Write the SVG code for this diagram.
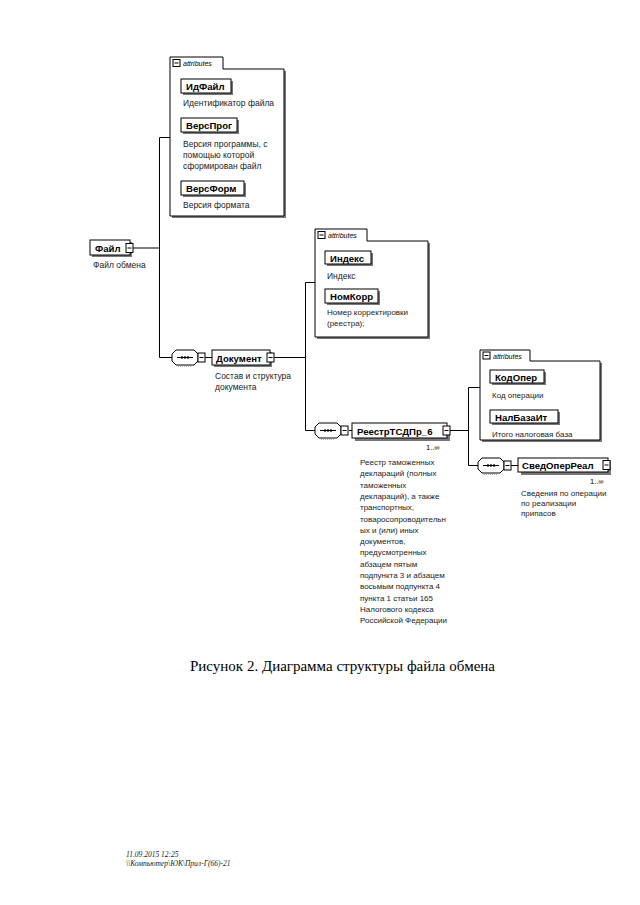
<svg xmlns="http://www.w3.org/2000/svg" xmlns:xlink="http://www.w3.org/1999/xlink" width="640" height="905" viewBox="0 0 640 905">
<style>
.box{fill:#fff;stroke:#000;stroke-width:1}
.sh{fill:#777}
.lbl{font-family:"Liberation Sans",Arial,sans-serif;font-weight:bold;font-size:9.6px;fill:#000}
.desc{font-family:"Liberation Sans",Arial,sans-serif;font-size:8.5px;fill:#222}
.desc2{font-family:"Liberation Sans",Arial,sans-serif;font-size:8px;fill:#222}
.att{font-family:"Liberation Sans",Arial,sans-serif;font-style:italic;font-size:7px;fill:#000}
.mult{font-family:"Liberation Sans",Arial,sans-serif;font-size:7.5px;fill:#000}
.conn{stroke:#000;stroke-width:1;fill:none}
.cap{font-family:"Liberation Serif","Times New Roman",serif;font-size:15px;fill:#000}
.foot{font-family:"Liberation Serif","Times New Roman",serif;font-style:italic;font-size:7.5px;fill:#222}
</style>
<defs>
<g id="minus"><rect x="0" y="0" width="7" height="9" class="box"/><line x1="1.5" y1="4.5" x2="5.5" y2="4.5" stroke="#000" stroke-width="1"/></g>
<g id="tabminus"><rect x="0" y="0" width="7" height="7" class="box"/><line x1="1.5" y1="3.5" x2="5.5" y2="3.5" stroke="#000" stroke-width="1"/></g>
<g id="seq">
<path d="M0,4 L4,0 L22,0 L26,4 L26,11 L22,15 L4,15 L0,11 Z" class="box"/>
<line x1="5" y1="7.5" x2="21" y2="7.5" stroke="#000" stroke-width="1"/>
<circle cx="10" cy="7.5" r="1.2" fill="#000"/><circle cx="13" cy="7.5" r="1.2" fill="#000"/><circle cx="16" cy="7.5" r="1.2" fill="#000"/>
<line x1="6" y1="16.5" x2="20" y2="16.5" stroke="#999" stroke-width="0.8" stroke-dasharray="1,1"/>
<rect x="26" y="3" width="7" height="9" class="box"/><line x1="27.5" y1="7.5" x2="31.5" y2="7.5" stroke="#000" stroke-width="1"/>
</g>
</defs>

<g id="connectors" class="conn">
<polyline points="133,248 159.5,248"/>
<polyline points="170,137.5 159.5,137.5 159.5,357.5 172,357.5"/>
<polyline points="205,357.5 212,357.5"/>
<polyline points="274,357.5 305.5,357.5"/>
<polyline points="315,282.5 305.5,282.5 305.5,430.5 315,430.5"/>
<polyline points="349,430.5 352,430.5"/>
<polyline points="450,430.5 468.5,430.5"/>
<polyline points="480,387.5 468.5,387.5 468.5,465.5 478,465.5"/>
<polyline points="511,465.5 518,465.5"/>
</g>

<g id="node-fail">
<rect x="92" y="242" width="40" height="15" class="sh"/>
<rect x="90" y="240" width="40" height="15" class="box"/>
<text x="95" y="251.5" class="lbl">Файл</text>
<use xlink:href="#minus" x="126" y="243.5"/>
<text x="93" y="268" class="desc">Файл обмена</text>
</g>

<g id="attrs-fail">
<path d="M172,71 L286,71 L286,218 L172,218 Z" class="sh"/>
<path d="M170,57 L223,57 L223,69 L284,69 L284,216 L170,216 Z" class="box"/>
<use xlink:href="#tabminus" x="173" y="59.5"/>
<text x="183" y="66" class="att">attributes</text>
<g id="attr-idfail">
<rect x="183" y="81" width="50" height="14" class="sh"/>
<rect x="181" y="79" width="50" height="14" class="box"/>
<text x="186" y="90" class="lbl">ИдФайл</text>
<text x="183" y="106" class="desc">Идентификатор файла</text>
</g>
<g id="attr-versprog">
<rect x="183" y="120" width="56" height="14" class="sh"/>
<rect x="181" y="118" width="56" height="14" class="box"/>
<text x="186" y="129" class="lbl">ВерсПрог</text>
<text x="183" y="147" class="desc">Версия программы, с</text>
<text x="183" y="158" class="desc">помощью которой</text>
<text x="183" y="169" class="desc">сформирован файл</text>
</g>
<g id="attr-versform">
<rect x="183" y="183" width="63" height="14" class="sh"/>
<rect x="181" y="181" width="63" height="14" class="box"/>
<text x="186" y="192" class="lbl">ВерсФорм</text>
<text x="183" y="208" class="desc">Версия формата</text>
</g>
</g>

<g id="seq-1"><use xlink:href="#seq" x="172" y="350"/></g>

<g id="node-dokument">
<rect x="214" y="352" width="58" height="15" class="sh"/>
<rect x="212" y="350" width="58" height="15" class="box"/>
<text x="216" y="361.5" class="lbl">Документ</text>
<use xlink:href="#minus" x="267" y="353"/>
<text x="215" y="379" class="desc">Состав и структура</text>
<text x="215" y="390" class="desc">документа</text>
</g>

<g id="attrs-dokument">
<path d="M317,243 L430,243 L430,339 L317,339 Z" class="sh"/>
<path d="M315,229 L367,229 L367,241 L428,241 L428,337 L315,337 Z" class="box"/>
<use xlink:href="#tabminus" x="318" y="231.5"/>
<text x="328" y="238" class="att">attributes</text>
<g id="attr-indeks">
<rect x="327" y="253" width="46" height="13" class="sh"/>
<rect x="325" y="251" width="46" height="13" class="box"/>
<text x="330" y="261.5" class="lbl">Индекс</text>
<text x="327" y="279" class="desc">Индекс</text>
</g>
<g id="attr-nomkorr">
<rect x="327" y="291" width="53" height="14" class="sh"/>
<rect x="325" y="289" width="53" height="14" class="box"/>
<text x="330" y="300" class="lbl">НомКорр</text>
<text x="327" y="315" class="desc2">Номер корректировки</text>
<text x="327" y="326" class="desc2">(реестра);</text>
</g>
</g>

<g id="seq-2"><use xlink:href="#seq" x="315" y="423"/></g>

<g id="node-reestr">
<rect x="355" y="426" width="95" height="15" class="sh"/>
<rect x="352" y="423" width="95" height="15" class="box"/>
<text x="357" y="434.5" class="lbl">РеестрТСДПр_6</text>
<use xlink:href="#minus" x="443" y="426"/>
<text x="426" y="450" class="mult">1..∞</text>
<text class="desc2">
<tspan x="360" y="465">Реестр таможенных</tspan>
<tspan x="360" y="476.3">деклараций (полных</tspan>
<tspan x="360" y="487.6">таможенных</tspan>
<tspan x="360" y="498.9">деклараций), а также</tspan>
<tspan x="360" y="510.2">транспортных,</tspan>
<tspan x="360" y="521.5">товаросопроводительн</tspan>
<tspan x="360" y="532.8">ых и (или) иных</tspan>
<tspan x="360" y="544.1">документов,</tspan>
<tspan x="360" y="555.4">предусмотренных</tspan>
<tspan x="360" y="566.7">абзацем пятым</tspan>
<tspan x="360" y="578">подпункта 3 и абзацем</tspan>
<tspan x="360" y="589.3">восьмым подпункта 4</tspan>
<tspan x="360" y="600.6">пункта 1 статьи 165</tspan>
<tspan x="360" y="611.9">Налогового кодекса</tspan>
<tspan x="360" y="623.2">Российской Федерации</tspan>
</text>
</g>

<g id="attrs-reestr">
<path d="M482,363 L602,363 L602,442 L482,442 Z" class="sh"/>
<path d="M480,350 L530,350 L530,361 L600,361 L600,440 L480,440 Z" class="box"/>
<use xlink:href="#tabminus" x="483" y="352"/>
<text x="493" y="358.5" class="att">attributes</text>
<g id="attr-kodoper">
<rect x="492" y="372" width="54" height="13" class="sh"/>
<rect x="490" y="370" width="54" height="13" class="box"/>
<text x="495" y="380.5" class="lbl">КодОпер</text>
<text x="492" y="398" class="desc2">Код операции</text>
</g>
<g id="attr-nalbaza">
<rect x="492" y="412" width="68" height="13" class="sh"/>
<rect x="490" y="410" width="68" height="13" class="box"/>
<text x="495" y="420.5" class="lbl">НалБазаИт</text>
<text x="492" y="437" class="desc2">Итого налоговая база</text>
</g>
</g>

<g id="seq-3"><use xlink:href="#seq" x="478" y="458"/></g>

<g id="node-svedoper">
<rect x="521" y="461" width="90" height="14" class="sh"/>
<rect x="518" y="458" width="90" height="14" class="box"/>
<text x="522" y="469" class="lbl">СведОперРеал</text>
<use xlink:href="#minus" x="603" y="460.5"/>
<text x="590" y="484" class="mult">1..∞</text>
<text x="521" y="496" class="desc2">Сведения по операции</text>
<text x="521" y="506" class="desc2">по реализации</text>
<text x="521" y="516" class="desc2">припасов</text>
</g>

<text x="190" y="671" class="cap">Рисунок 2. Диаграмма структуры файла обмена</text>
<text x="126" y="857" class="foot">11.09.2015 12:25</text>
<text x="126" y="866" class="foot">\\Компьютер\ЮК\Прил-Г(66)-21</text>
</svg>
